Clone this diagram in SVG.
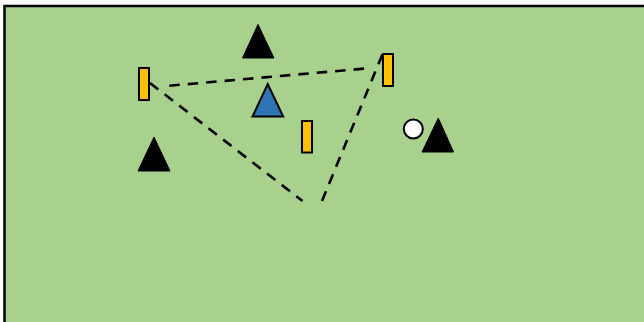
<svg xmlns="http://www.w3.org/2000/svg" width="644" height="322" viewBox="0 0 644 322">
<style>
.field{fill:#A9D18E;stroke:#000;stroke-width:2.5}
.cone{fill:#FFC000;stroke:#000;stroke-width:2}
.player{fill:#000;stroke:#000;stroke-width:1}
.blue{fill:#2E75B6;stroke:#000;stroke-width:2}
.ball{fill:#fff;stroke:#000;stroke-width:2}
.dash{fill:none;stroke:#000;stroke-width:2.6;stroke-dasharray:10.5 8}
</style>
<rect class="field" x="4.5" y="6" width="660" height="330"/>
<g id="connectors">
<line class="dash" x1="169.3" y1="85.7" x2="366" y2="68.5"/>
<line class="dash" x1="150" y1="83" x2="302.5" y2="201"/>
<line class="dash" x1="322" y1="201" x2="383" y2="53"/>
</g>
<g id="cone1"><rect class="cone" x="139" y="68" width="10" height="32"/></g>
<g id="cone2"><rect class="cone" x="383" y="54" width="10" height="32"/></g>
<g id="cone3"><rect class="cone" x="302" y="121" width="10" height="31.5"/></g>
<g id="player1"><polygon class="player" points="258,24.5 274,58 242.5,58"/></g>
<g id="player2"><polygon class="player" points="154,137 170,171 138,171"/></g>
<g id="player3"><polygon class="player" points="438.3,118 453.5,152 422,152"/></g>
<g id="player4"><polygon class="blue" points="267.7,84 283.2,116.5 252.5,116.5"/></g>
<g id="ball"><circle class="ball" cx="413.3" cy="129" r="9.5"/></g>
</svg>
